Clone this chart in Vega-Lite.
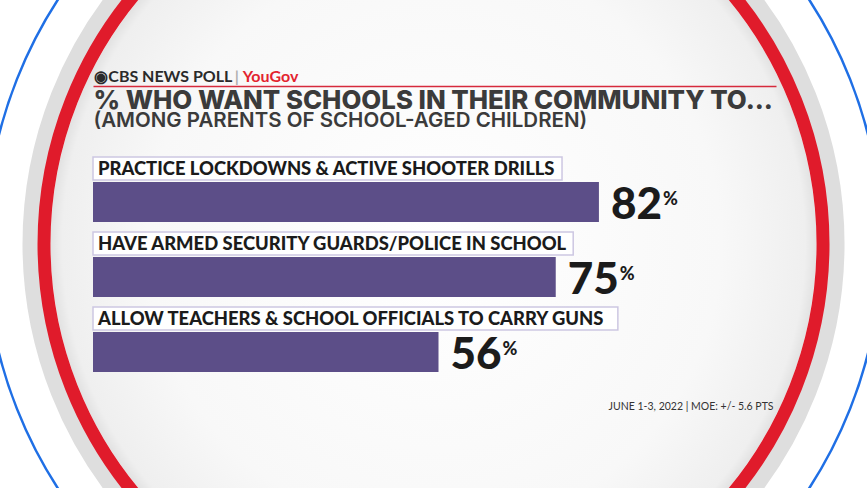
{
  "$schema": "https://vega.github.io/schema/vega-lite/v6.json",
  "description": "CBS News poll: what parents want schools to do",
  "width": 683,
  "height": 215,
  "autosize": {"type": "none"},
  "padding": {"left": 93, "top": 157, "right": 91, "bottom": 116},
  "background": "#ffffff",
  "config": {"view": {"stroke": null}, "font": "Lato"},
  "datasets": {
    "poll": [
      {"item": "PRACTICE LOCKDOWNS & ACTIVE SHOOTER DRILLS", "value": 82},
      {"item": "HAVE ARMED SECURITY GUARDS/POLICE IN SCHOOL", "value": 75},
      {"item": "ALLOW TEACHERS & SCHOOL OFFICIALS TO CARRY GUNS", "value": 56}
    ]
  },
  "layer": [
    {
      "data": {"name": "poll"},
      "layer": [
        {
          "data": {"values": [{}]},
          "mark": {
            "type": "point", "shape": "circle", "filled": true, "size": 586756, "yOffset": -20.5, "strokeWidth": 0, "opacity": 1,
            "fill": {"gradient": "radial", "stops": [
              {"offset": 0, "color": "#ffffff"},
              {"offset": 0.75, "color": "#f8f8f8"},
              {"offset": 0.97, "color": "#efefef"},
              {"offset": 1, "color": "#e2e2e2"}
            ]}
          },
          "encoding": {"x": {"datum": 55.19}, "y": {"datum": "HAVE ARMED SECURITY GUARDS/POLICE IN SCHOOL"}}
        },
        {
          "data": {"values": [{}]},
          "mark": {"type": "point", "shape": "circle", "filled": false, "size": 649636, "yOffset": -20.5, "stroke": "#d6d6d6", "strokeWidth": 16, "opacity": 0.8},
          "encoding": {"x": {"datum": 55.19}, "y": {"datum": "HAVE ARMED SECURITY GUARDS/POLICE IN SCHOOL"}}
        },
        {
          "data": {"values": [{}]},
          "mark": {"type": "point", "shape": "circle", "filled": false, "size": 606841, "yOffset": -20.5, "stroke": "#e01b2b", "strokeWidth": 13, "opacity": 1},
          "encoding": {"x": {"datum": 55.19}, "y": {"datum": "HAVE ARMED SECURITY GUARDS/POLICE IN SCHOOL"}}
        },
        {
          "data": {"values": [{}]},
          "mark": {"type": "point", "shape": "circle", "filled": false, "size": 802816, "yOffset": -20.5, "stroke": "#1f6fe5", "strokeWidth": 2.5, "opacity": 1},
          "encoding": {"x": {"datum": 55.19}, "y": {"datum": "HAVE ARMED SECURITY GUARDS/POLICE IN SCHOOL"}}
        },
        {
          "mark": {"type": "bar", "height": 40, "yOffset": 12.5, "color": "#5c4e88"},
          "encoding": {
            "x": {
              "field": "value", "type": "quantitative",
              "scale": {"domain": [0, 110.7], "nice": false, "zero": true},
              "axis": {
                "orient": "top", "offset": 0, "zindex": 2, "domain": false, "ticks": false, "tickSize": 0, "grid": false,
                "values": [0],
                "labelExpr": "'(AMONG PARENTS OF SCHOOL-AGED CHILDREN)'",
                "labelAlign": "left", "labelBaseline": "alphabetic", "labelPadding": 31, "labelLimit": 800,
                "labelFont": "Inter", "labelFontSize": 20.5, "labelFontWeight": 600, "labelColor": "#3b3b3b",
                "labelFlush": false, "labelOverlap": false, "labelBound": false,
                "title": "% WHO WANT SCHOOLS IN THEIR COMMUNITY TO...",
                "titleFont": "Inter", "titleFontSize": 25.8, "titleFontWeight": 800, "titleColor": "#3b3b3b", "titleLimit": 900,
                "titleX": 0, "titleY": -49, "titleAlign": "left", "titleAnchor": "start", "titleBaseline": "alphabetic"
              }
            },
            "y": {
              "field": "item", "type": "nominal", "sort": null,
              "scale": {
                "domain": [
                  "PRACTICE LOCKDOWNS & ACTIVE SHOOTER DRILLS",
                  "HAVE ARMED SECURITY GUARDS/POLICE IN SCHOOL",
                  "ALLOW TEACHERS & SCHOOL OFFICIALS TO CARRY GUNS"
                ],
                "paddingInner": 0.1333, "paddingOuter": 0
              },
              "axis": {
                "orient": "right", "zindex": 2, "labels": false, "ticks": false, "domain": false, "grid": false,
                "title": "JUNE 1-3, 2022  |  MOE: +/- 5.6 PTS", "titleLimit": 400,
                "titleAngle": 0, "titleX": -3, "titleY": 252, "titleAlign": "right", "titleBaseline": "alphabetic",
                "titleFont": "Lato", "titleFontSize": 10.5, "titleFontWeight": "normal", "titleColor": "#333333"
              }
            }
          }
        },
        {
          "transform": [{"calculate": "length(datum.item) * 1.81", "as": "boxEnd"}],
          "mark": {"type": "bar", "height": 23, "yOffset": -21, "color": "#ffffff", "stroke": "#cdc7e2", "strokeWidth": 1.5},
          "encoding": {
            "x": {"field": "boxEnd", "type": "quantitative"},
            "y": {"field": "item", "type": "nominal", "sort": null}
          }
        },
        {
          "mark": {"type": "text", "align": "left", "baseline": "alphabetic", "dx": 5, "dy": -14.5, "font": "Lato", "fontSize": 18.4, "fontWeight": 900, "color": "#1b1b1b"},
          "encoding": {
            "x": {"datum": 0},
            "y": {"field": "item", "type": "nominal", "sort": null},
            "text": {"field": "item"}
          }
        },
        {
          "mark": {"type": "text", "align": "left", "baseline": "alphabetic", "dx": 12, "dy": 29.5, "font": "Lato", "fontSize": 44, "fontWeight": 900, "color": "#1b1b1b"},
          "encoding": {
            "x": {"field": "value", "type": "quantitative"},
            "y": {"field": "item", "type": "nominal", "sort": null},
            "text": {"field": "value", "type": "quantitative", "format": "d"}
          }
        },
        {
          "mark": {"type": "text", "align": "left", "baseline": "alphabetic", "dx": 64, "dy": 15.5, "font": "Lato", "fontSize": 18, "fontWeight": 900, "color": "#1b1b1b", "text": "%"},
          "encoding": {
            "x": {"field": "value", "type": "quantitative"},
            "y": {"field": "item", "type": "nominal", "sort": null}
          }
        }
      ]
    },
    {
      "data": {"values": [{"v": 0}]},
      "mark": {"type": "point", "opacity": 0},
      "encoding": {
        "x": {
          "field": "v", "type": "quantitative",
          "scale": {"domain": [0, 110.7], "nice": false, "zero": true},
          "axis": {
            "orient": "top", "offset": 71, "zindex": 2, "domain": true, "domainColor": "#d62a3c", "domainWidth": 1.5,
            "ticks": false, "tickSize": 0, "grid": false,
            "values": [0, 2.4, 22.9, 24.2],
            "labelExpr": "datum.value == 0 ? '◉' : datum.value < 10 ? 'CBS NEWS POLL' : datum.value < 24 ? '|' : 'YouGov'",
            "labelAlign": "left", "labelBaseline": "alphabetic", "labelPadding": 5, "labelLimit": 300,
            "labelFont": "Lato", "labelFontSize": 16, "labelFontWeight": "bold",
            "labelColor": {"condition": {"test": "datum.value > 24", "value": "#e3232f"}, "value": "#2a2a2a"},
            "labelOpacity": {"condition": {"test": "datum.value > 20 && datum.value < 24", "value": 0.35}, "value": 1},
            "labelFlush": false, "labelOverlap": false, "labelBound": false,
            "title": null
          }
        }
      }
    }
  ],
  "resolve": {"scale": {"x": "independent"}, "axis": {"x": "independent"}}
}
